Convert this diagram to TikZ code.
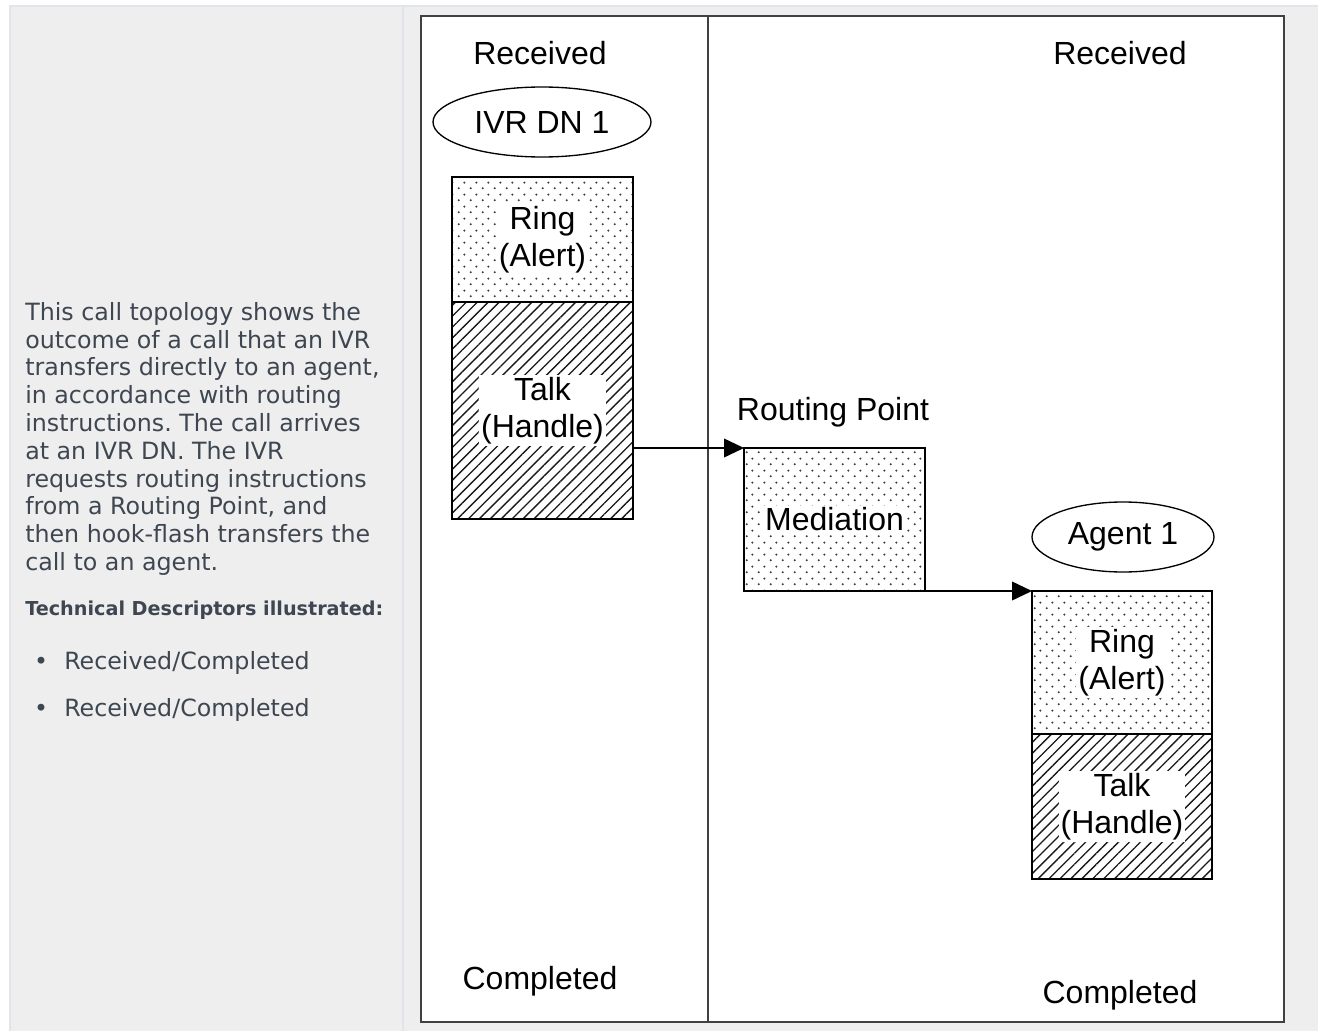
\documentclass[tikz,border=0pt]{standalone}
\usepackage{fontspec}
\setmainfont{Liberation Sans}
\newfontfamily\dejavu{DejaVu Sans}
\usetikzlibrary{shapes.geometric,arrows.meta,patterns,patterns.meta,fit}
\definecolor{panelbg}{HTML}{EEEEEE}
\definecolor{panelline}{HTML}{E1E5EB}
\definecolor{bodytext}{HTML}{3E4651}
\definecolor{framegray}{HTML}{404040}
\tikzdeclarepattern{name=stipple, type=uncolored,
  bounding box={(0pt,0pt) and (9pt,9pt)}, tile size={(9pt,9pt)},
  code={\fill (2.25pt,2.25pt) circle (0.95pt); \fill (6.75pt,6.75pt) circle (0.95pt);}}
\tikzset{
  diag/.style={font=\fontsize{24}{28}\selectfont},
  box/.style={draw=black, line width=1.2pt, inner sep=0pt, outer sep=0pt},
  ringbox/.style={box, pattern=stipple, pattern color=black!75},
  talkbox/.style={box, pattern={Lines[angle=45,distance=5.8pt,line width=1pt]}, pattern color=black!90},
  lbl/.style={diag, fill=white, inner sep=1.5pt, align=center},
  oval/.style={ellipse, draw, line width=1pt, inner sep=0pt, diag},
  arr/.style={line width=1.3pt, -{Triangle[length=15pt,width=14pt]}},
  body/.style={text=bodytext, inner sep=0pt, font=\dejavu\fontsize{17.8}{20.85}\selectfont},
}
\frenchspacing
\begin{document}
\begin{tikzpicture}[x=0.75pt,y=-0.75pt]
\useasboundingbox (0,0) rectangle (1318,1031);
\fill[white] (0,0) rectangle (1318,1031);
% page panel
\filldraw[fill=panelbg, draw=panelline, line width=1pt] (10,6) rectangle (1322,1035);
\draw[panelline, line width=1pt] (403,6) -- (403,1031);
% description text
\node[body, anchor=north west, align=left] (desc) at (25,302) {This call topology shows the\\
outcome of a call that an IVR\\
transfers directly to an agent,\\
in accordance with routing\\
instructions. The call arrives\\
at an IVR DN. The IVR\\
requests routing instructions\\
from a Routing Point, and\\
then hook-flash transfers the\\
call to an agent.};
\node[body, anchor=base west, font=\dejavu\bfseries\fontsize{14.4}{16}\selectfont] (tdhead) at (25,615) {Technical Descriptors illustrated:};
\node[body, anchor=base] (b1) at (41,669) {•};
\node[body, anchor=base west] (item1) at (64,669) {Received/Completed};
\node[body, anchor=base] (b2) at (41,716) {•};
\node[body, anchor=base west] (item2) at (64,716) {Received/Completed};
% diagram frame
\node[fill=white, draw=framegray, line width=1.5pt, inner sep=0pt, outer sep=0pt, fit={(421,16) (1284,1022)}] (frame) {};
\draw[draw=framegray, line width=1.3pt] (708,16) -- (708,1022);
% headings
\node[diag, anchor=base] (recL) at (540,65) {Received};
\node[diag, anchor=base] (recR) at (1120,65) {Received};
\node[diag, anchor=base] (compL) at (540,989) {Completed};
\node[diag, anchor=base] (compR) at (1120,1003) {Completed};
\node[diag, anchor=base] (rp) at (833,420) {Routing Point};
% IVR DN 1
\node[oval, minimum width=163.5pt, minimum height=52.5pt] (ivr) at (542,122) {IVR DN 1};
\node[ringbox, fit={(452,177) (633,302)}] (ring1) {};
\node[talkbox, fit={(452,302) (633,519)}] (talk1) {};
\node[lbl] at (ring1.center) {Ring\\(Alert)};
\node[lbl] at (talk1.center) {Talk\\(Handle)};
% Routing point
\node[ringbox, fit={(744,448) (925,591)}] (med) {};
\node[lbl] at (med.center) {Mediation};
% Agent 1
\node[oval, minimum width=136.5pt, minimum height=52.5pt] (agent) at (1123,537) {Agent 1};
\node[ringbox, fit={(1032,591) (1212,734)}] (ring2) {};
\node[talkbox, fit={(1032,734) (1212,879)}] (talk2) {};
\node[lbl] at (ring2.center) {Ring\\(Alert)};
\node[lbl] at (talk2.center) {Talk\\(Handle)};
% connectors
\draw[arr] (talk1.east |- med.north west) -- (med.north west);
\draw[arr] (med.south east) -- (ring2.north west);
\end{tikzpicture}
\end{document}
